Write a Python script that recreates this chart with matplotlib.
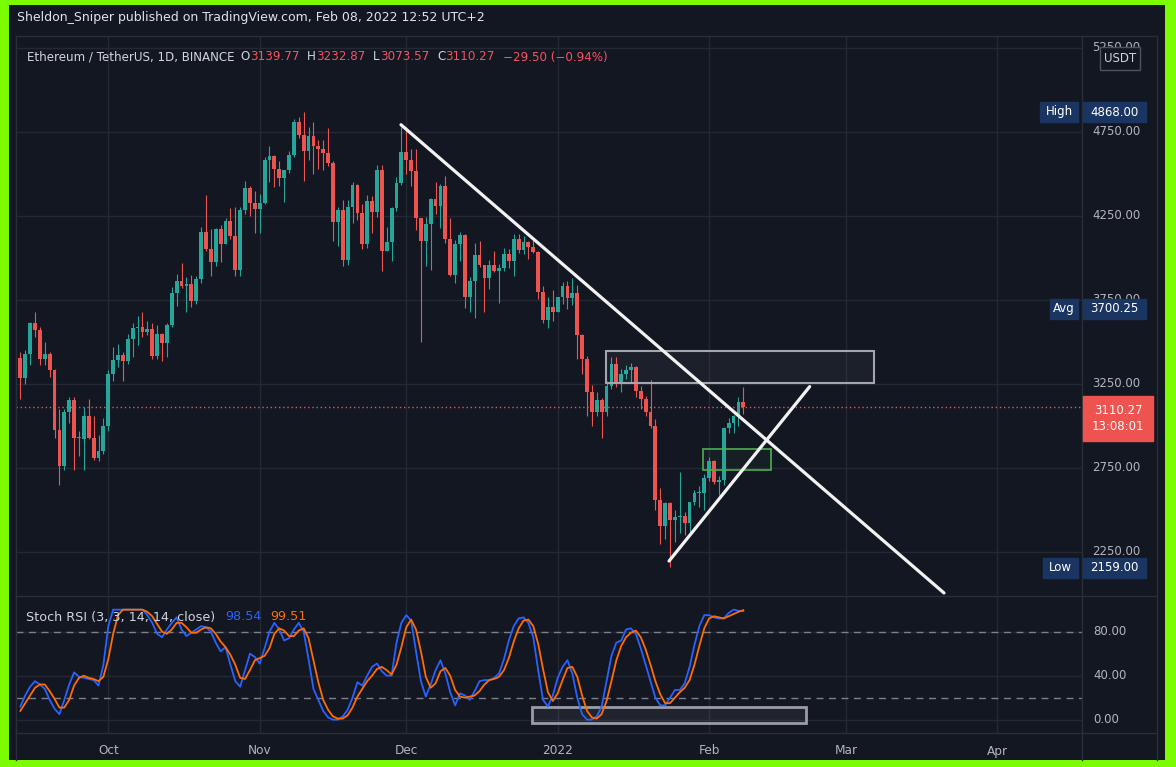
import matplotlib
matplotlib.use("Agg")
import matplotlib.pyplot as plt
import matplotlib.dates as mdates
import matplotlib.transforms as mtransforms
from matplotlib import font_manager
from matplotlib.patches import Rectangle
from matplotlib.lines import Line2D
import numpy as np
import pandas as pd

W, H = 1176, 767
BG = "#131722"
GRID = "#242833"
SEP = "#2a2e39"
TXT = "#b2b5be"
UP = "#26a69a"
DOWN = "#ef5350"
NAVY = "#1b3563"

# ETH/USDT daily candles, 13 Sep 2021 - 08 Feb 2022
dates = pd.date_range("2021-09-13", "2022-02-08", freq="D")
opens = [
    3407, 3285, 3430, 3610, 3570, 3400, 3430, 3330, 2975, 2760, 3080, 3155, 2930, 2925, 3060, 2930, 2810, 2850,
    3000, 3310, 3390, 3420, 3385, 3515, 3580, 3590, 3560, 3575, 3415, 3545, 3495, 3600, 3790, 3865, 3830, 3845,
    3745, 3875, 4155, 4055, 3975, 4170, 4085, 4220, 4130, 3925, 4285, 4415, 4325,
    4290, 4325, 4585, 4605, 4530, 4475, 4520, 4610, 4810, 4730, 4635, 4725, 4665, 4650, 4625, 4565, 4215, 4285,
    3990, 4300, 4435, 4265, 4085, 4340, 4270, 4520, 4040, 4095, 4295, 4445,
    4630, 4585, 4515, 4240, 4100, 4200, 4350, 4310, 4430, 4110, 3900, 4085, 4135, 3765, 3860, 4015, 3960, 3880,
    3960, 3920, 3940, 4020, 3980, 4110, 4045, 4095, 4065, 4035, 3795, 3630, 3710,
    3680, 3765, 3830, 3760, 3790, 3540, 3400, 3200, 3080, 3155, 3080, 3240, 3370, 3250, 3310, 3330, 3350, 3210,
    3160, 3085, 3000, 2560, 2405, 2540, 2440, 2460, 2465, 2420, 2545, 2600, 2600,
    2690, 2790, 2665, 2680, 2990, 3020, 3060, 3139.77,
]
highs = [
    3440, 3450, 3620, 3675, 3590, 3500, 3440, 3340, 3100, 3100, 3170, 3170, 2970, 3110, 3160, 3060, 2945, 3050,
    3330, 3470, 3490, 3440, 3545, 3615, 3655, 3675, 3625, 3610, 3600, 3550, 3610, 3825, 3905, 3970, 3885, 3900,
    3890, 4185, 4375, 4170, 4180, 4195, 4235, 4295, 4305, 4300, 4460, 4425, 4400,
    4380, 4600, 4665, 4610, 4575, 4525, 4635, 4825, 4840, 4868, 4780, 4810, 4700, 4700, 4770, 4575, 4300, 4345,
    4345, 4450, 4440, 4320, 4375, 4370, 4550, 4550, 4185, 4300, 4480, 4780,
    4780, 4645, 4650, 4240, 4245, 4355, 4450, 4440, 4485, 4240, 4105, 4155, 4140, 3885, 4090, 4100, 3960, 3990,
    4040, 3965, 4060, 4050, 4140, 4140, 4130, 4100, 4125, 4040, 3830, 3765, 3810,
    3770, 3855, 3860, 3880, 3840, 3545, 3415, 3245, 3200, 3165, 3270, 3410, 3410, 3340, 3365, 3375, 3355, 3235,
    3180, 3275, 3040, 2630, 2550, 2550, 2500, 2725, 2485, 2550, 2620, 2640, 2715,
    2815, 2800, 2700, 2995, 3050, 3065, 3175, 3232.87,
]
lows = [
    3160, 3250, 3360, 3530, 3360, 3360, 3290, 2930, 2650, 2740, 3020, 2740, 2820, 2740, 2920, 2800, 2790, 2830,
    2970, 3270, 3350, 3270, 3370, 3410, 3480, 3530, 3540, 3400, 3400, 3385, 3410, 3590, 3715, 3820, 3675, 3710,
    3725, 3850, 4040, 3890, 3950, 3975, 4085, 4110, 3890, 3890, 4260, 4250, 4150,
    4150, 4320, 4450, 4420, 4430, 4330, 4505, 4600, 4715, 4460, 4580, 4500, 4530, 4520, 4545, 4100, 4070, 3950,
    3960, 4210, 4225, 4055, 4060, 4150, 4245, 3920, 4040, 3980, 4280, 4435,
    4500, 4430, 4165, 3500, 3950, 3925, 4260, 4180, 4090, 3890, 3850, 3980, 3700, 3675, 3640, 3945, 3675, 3815,
    3915, 3730, 3920, 3940, 3890, 4030, 4020, 3995, 4030, 3755, 3610, 3585, 3625,
    3680, 3725, 3695, 3720, 3400, 3310, 3060, 3000, 3060, 2930, 3060, 3220, 3230, 3200, 3280, 3260, 3170, 3100,
    3060, 2985, 2500, 2300, 2330, 2159, 2310, 2360, 2350, 2370, 2530, 2515, 2500,
    2675, 2655, 2590, 2650, 2960, 2960, 3000, 3073.57,
]
closes = [
    3285, 3430, 3610, 3570, 3400, 3430, 3330, 2975, 2760, 3080, 3155, 2930, 2925, 3060, 2930, 2810, 2850, 3000,
    3310, 3390, 3420, 3385, 3515, 3580, 3590, 3560, 3575, 3415, 3545, 3495, 3600, 3790, 3865, 3830, 3845, 3745,
    3875, 4155, 4055, 3975, 4170, 4085, 4220, 4130, 3925, 4285, 4415, 4325, 4290,
    4325, 4585, 4605, 4530, 4475, 4520, 4610, 4810, 4730, 4635, 4725, 4665, 4650, 4625, 4565, 4215, 4285, 3990,
    4300, 4435, 4265, 4085, 4340, 4270, 4520, 4040, 4095, 4295, 4445, 4630,
    4585, 4515, 4240, 4100, 4200, 4350, 4310, 4430, 4110, 3900, 4085, 4135, 3765, 3860, 4015, 3960, 3880, 3960,
    3920, 3940, 4020, 3980, 4110, 4045, 4095, 4065, 4035, 3795, 3630, 3710, 3680,
    3765, 3830, 3760, 3790, 3540, 3400, 3200, 3080, 3155, 3080, 3240, 3370, 3250, 3310, 3330, 3350, 3210, 3160,
    3085, 3000, 2560, 2405, 2540, 2440, 2460, 2465, 2420, 2545, 2600, 2600, 2690,
    2790, 2665, 2680, 2990, 3020, 3060, 3139.77, 3110.27,
]

# Stoch RSI (3, 3, 14, 14)
stoch_k = [
    12, 22, 30, 35, 32, 28, 18, 10, 5, 18, 32, 43, 39, 38, 37, 36, 31, 50,
    85, 100, 100, 100, 100, 100, 100, 100, 95, 88, 78, 75, 82, 88, 93, 82, 76, 79,
    82, 85, 84, 80, 70, 62, 66, 50, 35, 30, 45, 60, 57,
    51, 65, 80, 88, 82, 72, 74, 82, 88, 80, 55, 28, 18, 8, 2, 0, 0, 3,
    9, 20, 34, 31, 40, 48, 51, 44, 40, 40, 70, 88,
    95, 90, 62, 35, 21, 32, 45, 54, 42, 25, 13, 24, 22, 18, 26, 35, 36, 36,
    38, 42, 55, 72, 85, 92, 93, 88, 75, 45, 18, 12, 22,
    38, 48, 54, 42, 20, 5, 0, 0, 3, 12, 35, 58, 70, 72, 82, 83, 78, 65,
    50, 35, 20, 13, 13, 20, 27, 27, 33, 48, 68, 85, 95,
    95, 93, 92, 92, 97, 100, 99, 98.54,
]
stoch_d = [
    8, 15, 22, 29, 32, 32, 26, 19, 11, 11, 18, 31, 38, 40, 38, 37, 35, 39,
    55, 78, 95, 100, 100, 100, 100, 100, 98, 94, 87, 80, 78, 82, 88, 88, 84, 79,
    79, 82, 84, 83, 78, 71, 66, 59, 50, 38, 37, 45, 54,
    56, 58, 65, 78, 83, 81, 76, 76, 81, 83, 74, 54, 34, 18, 9, 3, 1, 1,
    4, 11, 21, 28, 35, 40, 46, 48, 45, 41, 50, 66,
    84, 91, 82, 62, 39, 29, 33, 44, 47, 40, 27, 21, 20, 21, 22, 26, 32, 36,
    37, 39, 45, 56, 71, 83, 90, 91, 85, 69, 46, 25, 17,
    24, 36, 47, 48, 39, 22, 8, 2, 1, 5, 17, 35, 54, 67, 75, 79, 81, 75,
    64, 50, 35, 23, 15, 15, 20, 25, 29, 36, 50, 67, 83,
    92, 94, 93, 92, 94, 96, 98, 99.51,
]

price_ticks = [5250, 4750, 4250, 3750, 3250, 2750, 2250]
rsi_ticks = [80, 40, 0]
month_starts = ["2021-10-01", "2021-11-01", "2021-12-01", "2022-01-01", "2022-02-01", "2022-03-01", "2022-04-01"]
month_labels = ["Oct", "Nov", "Dec", "2022", "Feb", "Mar", "Apr"]

# drawings on the chart
trend_down = [("2021-11-29 22:00", 4792), ("2022-03-21 02:00", 2006)]
trend_up = [("2022-01-23 19:00", 2196), ("2022-02-21 14:00", 3234)]
zone_supply = [("2022-01-10 22:00", 3256), ("2022-03-06 17:00", 3446)]
zone_green = [("2022-01-30 19:00", 2738), ("2022-02-13 17:00", 2865)]
zone_rsi = [("2021-12-26 19:00", -3), ("2022-02-20 19:00", 11.8)]

last_price = 3110.27
high_val, avg_val, low_val = 4868.00, 3700.25, 2159.00

names = {f.name for f in font_manager.fontManager.ttflist}
if "Liberation Sans Narrow" in names:
    plt.rcParams["font.family"] = ["Liberation Sans Narrow", "DejaVu Sans"]
    k = 1.0
else:
    plt.rcParams["font.family"] = ["DejaVu Sans"]
    k = 0.74


def fx(x):
    return x / W


def fy(y):
    return 1 - y / H


def dnum(s):
    return mdates.date2num(pd.Timestamp(s))


fig = plt.figure(figsize=(W / 100, H / 100), dpi=100, facecolor="#7cfc00")
fig.add_artist(Rectangle((fx(9), fy(760)), (1165 - 9) / W, (760 - 5) / H,
                         transform=fig.transFigure, facecolor=BG, edgecolor="none", zorder=-2))

x0 = dnum("2021-10-01")
xlim = (x0 - 18.89, x0 + 199.33)
xs = mdates.date2num(dates)
o = np.array(opens, float)
h = np.array(highs, float)
l = np.array(lows, float)
c = np.array(closes, float)
cols = np.where(c >= o, UP, DOWN)

# ---- price pane
ax = fig.add_axes([fx(16), fy(595), (1082 - 16) / W, (595 - 36) / H])
ax.set_facecolor(BG)
ax.set_xlim(*xlim)
ax.set_ylim(1994, 5320)
ax.set_axis_off()
for p in price_ticks:
    ax.axhline(p, color=GRID, lw=1, zorder=0)
for m in month_starts:
    ax.axvline(dnum(m), color=GRID, lw=1, zorder=0)

ax.vlines(xs, l, h, colors=cols, linewidth=0.8, zorder=2)
body = np.where(np.abs(c - o) < 6, 6, c - o)
ax.bar(xs, body, bottom=o, width=0.78, color=cols, linewidth=0, zorder=3)

ax.axhline(last_price, color=DOWN, lw=1, linestyle=(0, (1, 2)), zorder=4)

(d1, p1), (d2, p2) = zone_supply
ax.add_patch(Rectangle((dnum(d1), p1), dnum(d2) - dnum(d1), p2 - p1,
                       facecolor=(1, 1, 1, 0.04), edgecolor="#a3a6ae", lw=1.5, zorder=5))
(d1, p1), (d2, p2) = zone_green
ax.add_patch(Rectangle((dnum(d1), p1), dnum(d2) - dnum(d1), p2 - p1,
                       facecolor=(0.3, 0.69, 0.31, 0.06), edgecolor="#4caf50", lw=1.2, zorder=5))
for line in [trend_down, trend_up]:
    ax.plot([dnum(line[0][0]), dnum(line[1][0])], [line[0][1], line[1][1]],
            color="#f2f2f2", lw=2.3, solid_capstyle="round", zorder=6)

# ---- stoch rsi pane
ax2 = fig.add_axes([fx(16), fy(733), (1082 - 16) / W, (733 - 597) / H])
ax2.set_facecolor(BG)
ax2.set_xlim(*xlim)
ax2.set_ylim(-12.1, 111.5)
ax2.set_axis_off()
for v in rsi_ticks:
    ax2.axhline(v, color=GRID, lw=1, zorder=0)
for m in month_starts:
    ax2.axvline(dnum(m), color=GRID, lw=1, zorder=0)
for v in [80, 20]:
    ax2.axhline(v, color="#7d808a", lw=1, linestyle=(0, (5, 4)), zorder=1)
(d1, v1), (d2, v2) = zone_rsi
ax2.add_patch(Rectangle((dnum(d1), v1), dnum(d2) - dnum(d1), v2 - v1,
                        facecolor=(1, 1, 1, 0.06), edgecolor="#9a9da5", lw=2, zorder=2))
ax2.plot(xs, stoch_k, color="#2962ff", lw=1.3, zorder=3)
ax2.plot(xs, stoch_d, color="#ff6d00", lw=1.3, zorder=4)


# ---- frame lines
def hline(y, a, b, col=SEP):
    fig.add_artist(Line2D([fx(a), fx(b)], [fy(y), fy(y)], transform=fig.transFigure, color=col, lw=1, zorder=7))


def vline(x, a, b, col=SEP):
    fig.add_artist(Line2D([fx(x), fx(x)], [fy(a), fy(b)], transform=fig.transFigure, color=col, lw=1, zorder=7))


hline(36, 16, 1157)
hline(596, 16, 1157)
hline(733, 16, 1157)
vline(1082, 36, 760)
vline(1157, 36, 760)
vline(16, 36, 760)

# ---- texts
renderer = fig.canvas.get_renderer()


def row(x, y, pieces, size, z=8):
    # place text pieces one after another, pieces = [(text, colour, gap_before_px)]
    for s, col, gap in pieces:
        x += gap
        t = fig.text(fx(x), fy(y), s, color=col, fontsize=size, va="center", ha="left", zorder=z)
        x = t.get_window_extent(renderer=renderer).x1


fig.text(fx(17), fy(18), "Sheldon_Sniper published on TradingView.com, Feb 08, 2022 12:52 UTC+2",
         color="#e0e3eb", fontsize=12.2 * k, va="center", ha="left")

HW = "#d1d4dc"
HR = "#f7525f"
row(27, 57, [("Ethereum / TetherUS, 1D, BINANCE", HW, 0),
             ("O", HW, 6), ("3139.77", HR, 0),
             ("H", HW, 8), ("3232.87", HR, 0),
             ("L", HW, 8), ("3073.57", HR, 0),
             ("C", HW, 8), ("3110.27", HR, 0),
             ("\u221229.50 (\u22120.94%)", HR, 8)], 11.6 * k)

row(26, 617, [("Stoch RSI (3, 3, 14, 14, close)", HW, 0),
              ("98.54", "#2962ff", 10), ("99.51", "#ff6d00", 9)], 12.4 * k)

tr = mtransforms.blended_transform_factory(fig.transFigure, ax.transData)
for p in price_ticks:
    fig.text(fx(1092), p, f"{p:.2f}", transform=tr, color=TXT, fontsize=11.5 * k, va="center", zorder=3)
tr2 = mtransforms.blended_transform_factory(fig.transFigure, ax2.transData)
for v in rsi_ticks:
    fig.text(fx(1093), v, f"{v:.2f}", transform=tr2, color=TXT, fontsize=11.5 * k, va="center", zorder=3)
tr3 = mtransforms.blended_transform_factory(ax.transData, fig.transFigure)
for m, lab in zip(month_starts, month_labels):
    fig.text(dnum(m), fy(751), lab, transform=tr3, color=TXT, fontsize=11.8 * k, ha="center", va="center")


def box(x1, y1, x2, y2, fc, text=None, tcol="white", size=11.5, ec=None):
    fig.add_artist(Rectangle((fx(x1), fy(y2)), (x2 - x1) / W, (y2 - y1) / H, transform=fig.transFigure,
                             facecolor=fc, edgecolor=ec or fc, lw=1, zorder=9))
    if text:
        fig.text(fx((x1 + x2) / 2), fy((y1 + y2) / 2), text, color=tcol, fontsize=size * k,
                 ha="center", va="center", zorder=10, linespacing=1.25)


box(1100, 47, 1140, 70, BG, "USDT", tcol="#d1d4dc", ec="#50535e")
for lab, lx, val in [("High", 1040, high_val), ("Avg", 1050, avg_val), ("Low", 1043, low_val)]:
    yy = 112 + (high_val - val) * 0.1683
    box(lx, yy - 10, 1078, yy + 10, NAVY, lab)
    box(1083, yy - 10, 1146, yy + 10, NAVY, f"{val:.2f}")
box(1083, 396, 1153, 441, DOWN, "3110.27\n13:08:01")

fig.savefig("out.png", dpi=100, facecolor=fig.get_facecolor())
